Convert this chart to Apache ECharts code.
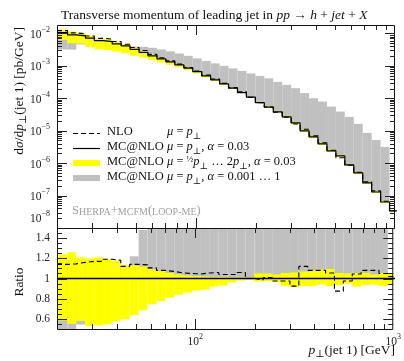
<!DOCTYPE html>
<html><head><meta charset="utf-8">
<script src="https://cdn.jsdelivr.net/npm/echarts@6/dist/echarts.min.js"></script>
<style>html,body{margin:0;padding:0;background:#fff}#c{width:404px;height:361px}</style>
</head><body><div id="c"></div>
<script>
// ---- data ----
const binEdges = [20, 22.6, 25.0, 27.8, 30.8, 34.2, 37.9, 42.0, 46.6, 51.7, 57.3, 63.6, 70.5, 78.2, 86.8, 96.2, 106.7, 118.4, 131.3, 145.6, 161.5, 179.1, 198.7, 220.3, 244.4, 271.0, 300.6, 333.4, 369.8, 410.1, 454.9, 504.5, 559.5, 620.6, 688.3, 763.4, 846.7, 939.0, 1041.5];
// MC@NLO mu=pT, alpha=0.03 (pb/GeV)
const mcnlo = [1.07e-2, 9.06e-3, 8.43e-3, 7.16e-3, 6.03e-3, 5.62e-3, 4.78e-3, 4.14e-3, 3.23e-3, 2.61e-3, 2.04e-3, 1.64e-3, 1.33e-3, 1.07e-3, 8.5e-4, 6.67e-4, 4.91e-4, 3.70e-4, 2.78e-4, 2.05e-4, 1.50e-4, 1.08e-4, 7.36e-5, 5.31e-5, 3.80e-5, 2.67e-5, 1.74e-5, 9.9e-6, 6.44e-6, 3.92e-6, 2.38e-6, 1.67e-6, 8.8e-7, 4.99e-7, 2.45e-7, 1.29e-7, 6.34e-8, 3.35e-8];
// NLO / MC@NLO
const nloRatio = [1.14, 1.145, 1.16, 1.17, 1.17, 1.19, 1.18, 1.12, 1.14, 1.135, 1.105, 1.08, 1.07, 1.055, 1.05, 1.045, 1.055, 1.06, 1.04, 1.04, 1.06, 1.0, 0.985, 1.01, 0.975, 0.975, 0.925, 1.12, 1.08, 1.08, 1.055, 0.875, 0.975, 1.045, 1.08, 1.08, 1.05, 1.02];
// scale variation band (ratio to MC@NLO)
const scaleHi = [1.24, 1.26, 1.21, 1.20, 1.21, 1.19, 1.175, 1.135, 1.13, 1.12, 1.09, 1.075, 1.055, 1.04, 1.03, 1.025, 1.02, 1.015, 1.015, 1.01, 1.01, 1.005, 1.05, 1.05, 1.04, 1.055, 1.06, 1.07, 1.08, 1.09, 1.095, 1.055, 1.05, 1.055, 1.055, 1.04, 1.055, 1.055];
const scaleLo = [0.585, 0.55, 0.58, 0.53, 0.535, 0.545, 0.575, 0.595, 0.635, 0.685, 0.745, 0.775, 0.81, 0.84, 0.86, 0.88, 0.89, 0.92, 0.93, 0.96, 0.98, 0.985, 0.97, 0.975, 0.965, 0.925, 0.915, 0.925, 0.925, 0.94, 0.925, 0.935, 0.95, 0.92, 0.935, 0.94, 0.925, 0.935];
// alpha variation band (ratio to MC@NLO)
const alphaLo = [0.3, 0.35, 0.545, 1, 1, 1, 1, 1, 1, 1, 1, 1, 1, 1, 1, 1, 1, 1, 1, 1, 1, 1, 1, 1, 1, 1, 1, 1, 1, 1, 1, 1, 1, 1, 1, 1, 1, 1];
const alphaHi = [1.15, 1.15, 1.15, 1.15, 1.15, 1.15, 1.12, 1.12, 1.22, 1.48, 1.77, 1.96, 2.11, 2.26, 2.4, 2.55, 2.9, 3.23, 3.6, 4.08, 4.67, 5.43, 6.66, 7.76, 8.4, 9.7, 11.8, 14.6, 15.6, 20.2, 23.3, 23.3, 30.4, 32.6, 35, 40.3, 49.9, 1];
// axis ticks
const xMajorTicks = [100];
const xMinorTicks = [30, 40, 50, 60, 70, 80, 90, 200, 300, 400, 500, 600, 700, 800, 900];
const yMajorTicks = [1e-8, 1e-7, 1e-6, 1e-5, 1e-4, 1e-3, 1e-2];
const rMajorTicks = [0.6, 0.8, 1.0, 1.2, 1.4];
const rMinorTicks = [0.55, 0.65, 0.7, 0.75, 0.85, 0.9, 0.95, 1.05, 1.1, 1.15, 1.25, 1.3, 1.35, 1.45];

const F = "'Liberation Serif', 'DejaVu Serif', serif";
const X_MIN = 20, X_MAX = 1000, Y_MIN = 1e-8, Y_MAX = Math.pow(10, -1.74), R_MIN = 0.5, R_MAX = 1.5;

function stepData(vals) {
  const d = vals.map((v, i) => [binEdges[i], v]);
  d.push([binEdges[vals.length], vals[vals.length - 1]]);
  return d;
}
function band(lo, hi, color, idx, z) {
  return {
    type: 'custom', xAxisIndex: idx, yAxisIndex: idx, z: z, clip: true, silent: true,
    encode: { x: [0, 1], y: [2, 3] },
    data: lo.map((l, i) => [binEdges[i], binEdges[i + 1], l, hi[i]]),
    renderItem(params, api) {
      if (api.value(3) <= api.value(2)) return null;
      const p0 = api.coord([api.value(0), api.value(3)]);
      const p1 = api.coord([api.value(1), api.value(2)]);
      const r = echarts.graphic.clipRectByRect(
        { x: p0[0], y: p0[1], width: p1[0] - p0[0], height: p1[1] - p0[1] }, params.coordSys);
      if (!r) return null;
      return { type: 'rect', shape: r, style: { fill: color } };
    }
  };
}
function decor(idx, yMin, yMaj, yMin2) {
  const data = [[X_MIN, yMin, 0, 2]];
  xMajorTicks.forEach(v => data.push([v, yMin, 10, 0]));
  xMinorTicks.forEach(v => data.push([v, yMin, 5, 0]));
  yMaj.forEach(v => data.push([X_MIN, v, 10, 1]));
  yMin2.forEach(v => data.push([X_MIN, v, 5, 1]));
  return {
    type: 'custom', xAxisIndex: idx, yAxisIndex: idx, z: 20, silent: true, clip: false,
    encode: { x: 0, y: 1 },
    data,
    renderItem(params, api) {
      const cs = params.coordSys, t = api.value(3), len = api.value(2);
      const st = { stroke: '#222', lineWidth: 1 };
      if (t === 2) return { type: 'rect', shape: { x: cs.x + 0.5, y: cs.y + 0.5, width: cs.width - 1, height: cs.height }, style: { fill: null, stroke: '#111', lineWidth: 1 } };
      if (t === 0) {
        const px = Math.round(api.coord([api.value(0), api.value(1)])[0]) + 0.5;
        const yb = cs.y + cs.height, yt = cs.y;
        return { type: 'group', children: [
          { type: 'line', shape: { x1: px, y1: yb, x2: px, y2: yb - len }, style: st },
          { type: 'line', shape: { x1: px, y1: yt, x2: px, y2: yt + len }, style: st }] };
      }
      const py = Math.round(api.coord([api.value(0), api.value(1)])[1]) + 0.5;
      const xl = cs.x, xr = cs.x + cs.width;
      return { type: 'group', children: [
        { type: 'line', shape: { x1: xl, y1: py, x2: xl + len, y2: py }, style: st },
        { type: 'line', shape: { x1: xr, y1: py, x2: xr - len, y2: py }, style: st }] };
    }
  };
}
const yMinorMain = [];
for (let n = -8; n <= -2; n++) for (let k = 2; k <= 9; k++) { const v = k * Math.pow(10, n); if (v < Y_MAX) yMinorMain.push(v); }

const supRich = {
  b: { fontFamily: F, fontSize: 11.5, color: '#222', lineHeight: 15, verticalAlign: 'bottom' },
  s: { fontFamily: F, fontSize: 8, color: '#222', lineHeight: 9, verticalAlign: 'top' },
  gap: { fontSize: 1, lineHeight: 22 }
};
function isPow10(v) { const l = Math.log10(v); return Math.abs(l - Math.round(l)) < 1e-6; }

const nloMain = mcnlo.map((v, i) => v * nloRatio[i]);
const unity = mcnlo.map(v => v / v);

function mkRich(sz) {
  return {
    n: { font: sz + 'px ' + F, fill: '#111', lineHeight: 16, verticalAlign: 'top' },
    i: { font: 'italic ' + sz + 'px ' + F, fill: '#111', lineHeight: 16, verticalAlign: 'top' },
    sub: { font: Math.round(sz * 0.72) + 'px ' + F, fill: '#111', lineHeight: 12, verticalAlign: 'bottom' },
    fr: { font: Math.round(sz * 0.72) + 'px ' + F, fill: '#111', lineHeight: 16, verticalAlign: 'top' }
  };
}
const legRich = mkRich(12.5);
const axRich = mkRich(13.5);
function legText(x, y, t) {
  return { type: 'text', x: x, y: y, z: 30, style: { text: t, rich: legRich, verticalAlign: 'middle', align: 'left' } };
}

const option = {
  animation: false,
  backgroundColor: '#fff',
  title: {
    left: 56, top: 3,
    text: '{n|Transverse momentum of leading jet in }{i|pp}{n| → }{i|h}{n| + }{i|jet}{n| + }{i|X}',
    textStyle: { fontWeight: 'normal', rich: {
      n: { fontFamily: F, fontSize: 13.5, fontWeight: 'normal', color: '#111' },
      i: { fontFamily: F, fontSize: 13.5, fontWeight: 'normal', fontStyle: 'italic', color: '#111' } } }
  },
  grid: [
    { left: 57, top: 25, width: 338, height: 203, show: false },
    { left: 57, top: 228, width: 338, height: 101, show: false }
  ],
  xAxis: [
    { type: 'log', gridIndex: 0, min: X_MIN, max: X_MAX, logBase: 10,
      axisLine: { show: false }, axisTick: { show: false }, splitLine: { show: false }, axisLabel: { show: false } },
    { type: 'log', gridIndex: 1, min: X_MIN, max: X_MAX, logBase: 10,
      axisLine: { show: false }, axisTick: { show: false }, splitLine: { show: false },
      axisLabel: { margin: 4, rich: supRich,
        formatter: v => isPow10(v) ? '{b|10}{s|' + Math.round(Math.log10(v)) + '}' : '' } }
  ],
  yAxis: [
    { type: 'log', gridIndex: 0, min: Y_MIN, max: Y_MAX, logBase: 10,
      axisLine: { show: false }, axisTick: { show: false }, splitLine: { show: false },
      axisLabel: { margin: 7, rich: supRich,
        formatter: v => {
          if (!isPow10(v)) return '';
          const n = Math.round(Math.log10(v));
          const t = '{b|10}{s|−' + (-n) + '}';
          return n === -8 ? t + '\n{gap| }' : t;
        } } },
    { type: 'value', gridIndex: 1, min: R_MIN, max: R_MAX,
      axisLine: { show: false }, axisTick: { show: false }, splitLine: { show: false },
      axisLabel: { margin: 7, fontFamily: F, fontSize: 11.5, color: '#222',
        formatter: v => (Math.abs(v - R_MIN) < 1e-9 || Math.abs(v - R_MAX) < 1e-9) ? '' : String(+v.toFixed(2)) } }
  ],
  series: [
    band(mcnlo.map((v, i) => v * alphaLo[i]), mcnlo.map((v, i) => v * alphaHi[i]), '#c0c0c0', 0, 2),
    band(mcnlo.map((v, i) => v * scaleLo[i]), mcnlo.map((v, i) => v * scaleHi[i]), '#ffff00', 0, 3),
    { type: 'line', xAxisIndex: 0, yAxisIndex: 0, step: 'end', data: stepData(mcnlo), symbol: 'none', z: 5,
      lineStyle: { color: '#000', width: 1.2 }, silent: true },
    { type: 'line', xAxisIndex: 0, yAxisIndex: 0, step: 'end', data: stepData(nloMain), symbol: 'none', z: 6,
      lineStyle: { color: '#000', width: 1.1, type: [5, 3] }, silent: true },
    band(alphaLo, alphaHi, '#c0c0c0', 1, 2),
    band(scaleLo, scaleHi, '#ffff00', 1, 3),
    { type: 'line', xAxisIndex: 1, yAxisIndex: 1, step: 'end', data: stepData(unity), symbol: 'none', z: 5,
      lineStyle: { color: '#000', width: 1.3 }, silent: true },
    { type: 'line', xAxisIndex: 1, yAxisIndex: 1, step: 'end', data: stepData(nloRatio), symbol: 'none', z: 6,
      lineStyle: { color: '#000', width: 1.1, type: [5, 3] }, silent: true },
    decor(0, Y_MIN, yMajorTicks, yMinorMain),
    decor(1, R_MIN, rMajorTicks, rMinorTicks)
  ],
  graphic: [
    { type: 'line', z: 30, shape: { x1: 73, y1: 133.5, x2: 100, y2: 133.5 }, style: { stroke: '#000', lineWidth: 1.1, lineDash: [5, 3] } },
    { type: 'line', z: 30, shape: { x1: 73, y1: 148.5, x2: 100, y2: 148.5 }, style: { stroke: '#000', lineWidth: 1.2 } },
    { type: 'rect', z: 30, shape: { x: 73, y: 160, width: 27, height: 6 }, style: { fill: '#ffff00' } },
    { type: 'rect', z: 30, shape: { x: 73, y: 175, width: 27, height: 6 }, style: { fill: '#c0c0c0' } },
    legText(107, 133, '{n|NLO}'),
    legText(107, 148, '{n|MC@NLO}'),
    legText(107, 163, '{n|MC@NLO}'),
    legText(107, 178, '{n|MC@NLO}'),
    legText(167, 133, '{i|μ}{n| = }{i|p}{sub|⊥}'),
    legText(167, 148, '{i|μ}{n| = }{i|p}{sub|⊥}{n|, }{i|α}{n| = 0.03}'),
    legText(167, 163, '{i|μ}{n| = }{fr|½}{i|p}{sub|⊥}{n| … 2}{i|p}{sub|⊥}{n|, }{i|α}{n| = 0.03}'),
    legText(167, 178, '{i|μ}{n| = }{i|p}{sub|⊥}{n|, }{i|α}{n| = 0.001 … 1}'),
    { type: 'text', x: 72, y: 210, z: 30, style: {
      text: '{a|S}{b|HERPA}{a|+}{b|MCFM}{a|(}{b|LOOP-ME}{a|)}', verticalAlign: 'middle',
      rich: { a: { font: '12.5px ' + F, fill: '#a0a0a0', verticalAlign: 'bottom', lineHeight: 14 },
              b: { font: '10px ' + F, fill: '#a0a0a0', verticalAlign: 'bottom', lineHeight: 14 } } } },
    { type: 'text', x: 20, y: 27, rotation: Math.PI / 2, z: 30, style: {
      text: '{n|d}{i|σ}{n|/d}{i|p}{sub|⊥}{n|(jet 1) [pb/GeV]}', align: 'right', verticalAlign: 'middle', rich: axRich } },
    { type: 'text', x: 20, y: 282, rotation: Math.PI / 2, z: 30, style: {
      text: '{n|Ratio}', align: 'center', verticalAlign: 'middle', rich: axRich } },
    { type: 'text', x: 395, y: 351, z: 30, style: {
      text: '{i|p}{sub|⊥}{n|(jet 1) [GeV]}', align: 'right', verticalAlign: 'middle', rich: axRich } }
  ]
};
const chart = echarts.init(document.getElementById('c'), null, { renderer: 'canvas' });
chart.setOption(option);
</script>
</body></html>
